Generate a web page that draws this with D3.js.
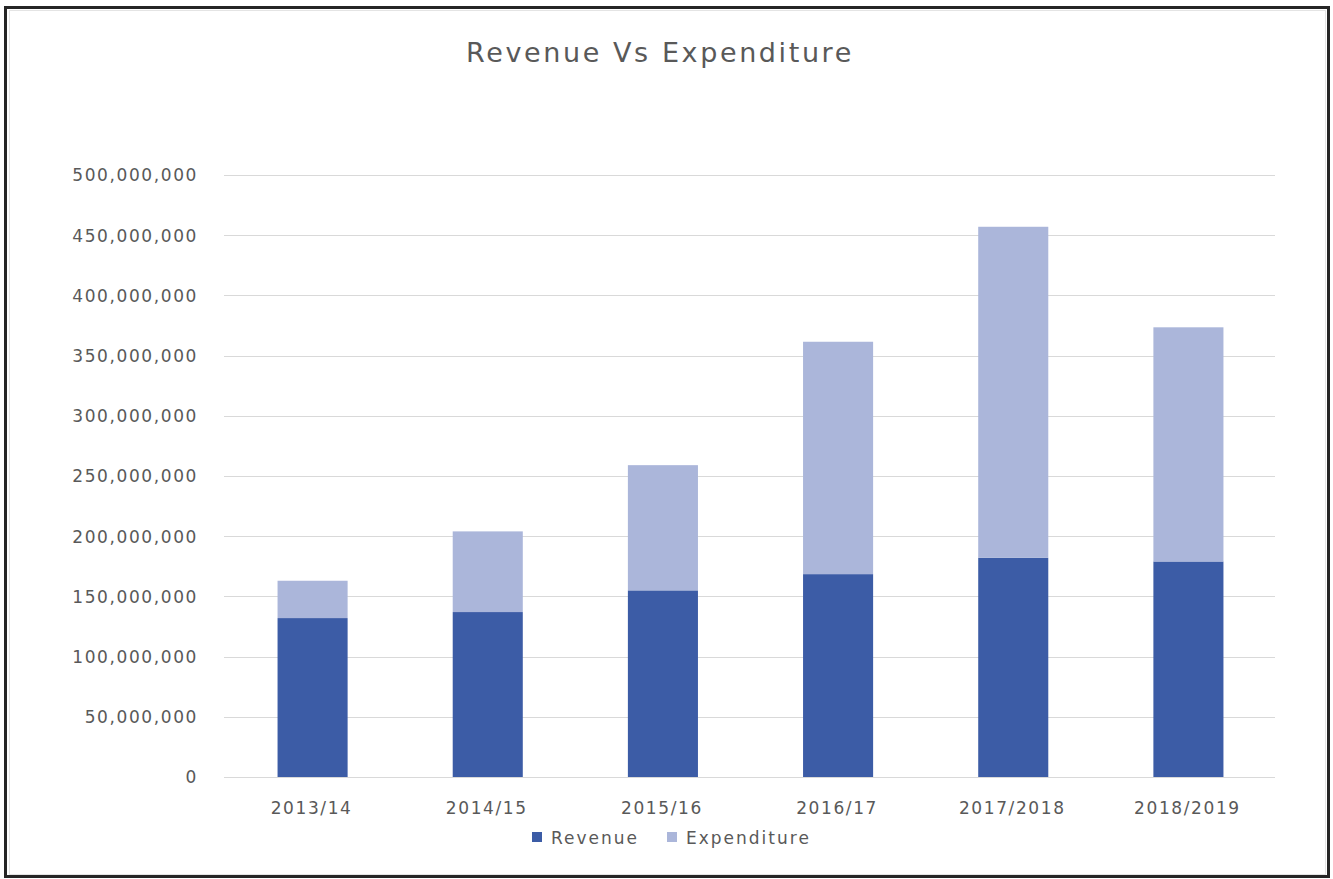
<!DOCTYPE html>
<html>
<head>
<meta charset="utf-8">
<script src="https://cdn.jsdelivr.net/npm/d3@7"></script>
<style>
  html, body { margin: 0; padding: 0; background: #ffffff; }
  svg { display: block; }
  text { font-family: "DejaVu Sans", sans-serif; fill: #595959; }
</style>
</head>
<body>
<svg id="chart" width="1333" height="879"></svg>
<script>
// Fiscal years on the category axis
const years = ["2013/14", "2014/15", "2015/16", "2016/17", "2017/2018", "2018/2019"];
// Stacked series values
const revenue = [132000000, 137000000, 155000000, 168500000, 182000000, 179000000];
const expenditure = [31000000, 67000000, 104000000, 193000000, 275000000, 194500000];
// Value axis ticks
const yTicks = [0, 50000000, 100000000, 150000000, 200000000, 250000000, 300000000, 350000000, 400000000, 450000000, 500000000];
const seriesNames = ["Revenue", "Expenditure"];
const seriesColors = ["#3c5ca6", "#abb6da"];

const svg = d3.select("#chart");

// Frame around the chart
svg.append("rect").attr("x", 5.5).attr("y", 7.5).attr("width", 1323).attr("height", 869)
  .attr("fill", "#ffffff").attr("stroke", "#262626").attr("stroke-width", 3);
svg.append("rect").attr("x", 9.5).attr("y", 10.5).attr("width", 1316).attr("height", 864)
  .attr("fill", "none").attr("stroke", "#e4e4e4").attr("stroke-width", 1);

const plot = { left: 224, right: 1275, top: 175, bottom: 777 };

const x = d3.scaleBand().domain(years).range([plot.left, plot.right]).paddingInner(0.6).paddingOuter(0.3);
const y = d3.scaleLinear().domain([0, 500000000]).range([plot.bottom, plot.top]);

// Title
svg.append("text").attr("x", 660).attr("y", 62).attr("text-anchor", "middle")
  .style("font-size", "27px").style("letter-spacing", "2.6px").text("Revenue Vs Expenditure");

// Gridlines
svg.append("g").selectAll("line").data(yTicks).join("line")
  .attr("x1", plot.left).attr("x2", plot.right)
  .attr("y1", d => Math.round(y(d)) + 0.5).attr("y2", d => Math.round(y(d)) + 0.5)
  .attr("stroke", "#d9d9d9").attr("stroke-width", 1.2);

// Value axis labels
const fmt = d3.format(",");
const yAxis = d3.axisLeft(y).tickValues(yTicks).tickFormat(fmt).tickSize(0).tickPadding(0);
const gy = svg.append("g").attr("transform", `translate(198,0)`).call(yAxis);
gy.select(".domain").remove();
gy.selectAll("text").attr("dy", "0.35em").style("font-size", "17px").style("letter-spacing", "1.6px")
  .style("font-family", "DejaVu Sans, sans-serif").attr("fill", "#595959");

// Stacked bars
const rows = years.map((yr, i) => ({ year: yr, Revenue: revenue[i], Expenditure: expenditure[i] }));
const stack = d3.stack().keys(seriesNames)(rows);
svg.append("g").selectAll("g").data(stack).join("g")
  .attr("fill", (d, i) => seriesColors[i])
  .selectAll("rect").data(d => d).join("rect")
  .attr("x", d => x(d.data.year) + 1)
  .attr("width", x.bandwidth())
  .attr("y", d => y(d[1]))
  .attr("height", d => y(d[0]) - y(d[1]));

// Category axis labels
const xAxis = d3.axisBottom(x).tickSize(0).tickPadding(0);
const gx = svg.append("g").attr("transform", `translate(0,${plot.bottom})`).call(xAxis);
gx.select(".domain").remove();
gx.selectAll("text").attr("y", 37).attr("dy", 0).style("font-size", "17px").style("letter-spacing", "1.6px")
  .style("font-family", "DejaVu Sans, sans-serif").attr("fill", "#595959");

// Legend
const legendItems = [
  { name: seriesNames[0], color: seriesColors[0], sx: 532, tx: 551 },
  { name: seriesNames[1], color: seriesColors[1], sx: 667, tx: 686 }
];
const lg = svg.append("g");
lg.selectAll("rect").data(legendItems).join("rect")
  .attr("x", d => d.sx).attr("y", 832).attr("width", 10).attr("height", 10).attr("fill", d => d.color);
lg.selectAll("text").data(legendItems).join("text")
  .attr("x", d => d.tx).attr("y", 844).style("font-size", "17px").style("letter-spacing", "2px")
  .text(d => d.name);
</script>
</body>
</html>
